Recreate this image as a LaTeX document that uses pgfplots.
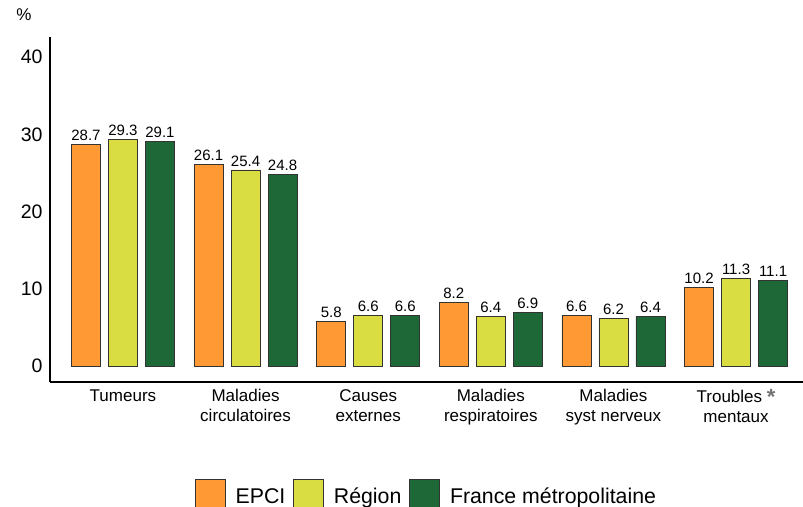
\documentclass[border=0pt]{standalone}
\usepackage{fontspec}
\setmainfont{Liberation Sans}
\usepackage{pgfplots}
\pgfplotsset{compat=1.18}
\definecolor{cEPCI}{RGB}{255,153,51}
\definecolor{cReg}{RGB}{217,221,66}
\definecolor{cFra}{RGB}{30,104,55}
\begin{document}
\begin{tikzpicture}
\begin{axis}[
    scale only axis, width=753pt, height=345pt,
    ybar=8pt, bar width=29pt,
    xmin=-0.595, xmax=5.546, ymin=-2.07, ymax=42.6,
    axis x line=bottom, axis y line=left,
    axis line style={-, line width=1.1pt},
    xtick={0,1,2,3,4,5}, ytick={0,10,20,30,40},
    xticklabels={Tumeurs, Maladies\\circulatoires, Causes\\externes,
        Maladies\\respiratoires, Maladies\\syst nerveux,
        Troubles {\color{black!55}\fontsize{22}{20}\selectfont\bfseries\raisebox{-2pt}{*}}\\mentaux},
    xticklabel style={align=center, font=\fontsize{17}{20}\selectfont, yshift=-4pt},
    yticklabel style={font=\fontsize{19.5}{20}\selectfont, xshift=-4pt},
    major tick length=0,
    /pgf/number format/assume math mode=true,
    nodes near coords,
    nodes near coords style={font=\fontsize{15}{16}\selectfont, black,
        /pgf/number format/fixed, /pgf/number format/precision=1,
        /pgf/number format/fixed zerofill},
    every axis plot/.append style={draw=black!80, line width=0.6pt},
    legend columns=3,
    legend style={draw=none, at={(0.5,-0.275)}, anchor=north,
        font=\fontsize{21.3}{22}\selectfont,
        /tikz/every odd column/.append style={column sep=8pt},
        /tikz/every even column/.append style={column sep=6pt}},
    legend image code/.code={\draw[#1, draw=black!80] (0pt,-13pt) rectangle (30pt,17pt);},
    clip=false,
]
\addplot[fill=cEPCI] coordinates {(0,28.7) (1,26.1) (2,5.8) (3,8.2) (4,6.6) (5,10.2)};
\addplot[fill=cReg] coordinates {(0,29.3) (1,25.4) (2,6.6) (3,6.4) (4,6.2) (5,11.3)};
\addplot[fill=cFra] coordinates {(0,29.1) (1,24.8) (2,6.6) (3,6.9) (4,6.4) (5,11.1)};
\legend{EPCI, Région, France métropolitaine}
\coordinate (bl) at (rel axis cs:0,0);
\coordinate (tl) at (rel axis cs:0,1);
\coordinate (tr) at (rel axis cs:1,1);
\end{axis}
\node[font=\fontsize{17}{18}\selectfont] at ([shift={(-26pt,22pt)}]tl) {\%};
\pgfresetboundingbox
\path ([shift={(-50pt,-125pt)}]bl) rectangle ([yshift=37pt]tr);
\end{tikzpicture}
\end{document}
